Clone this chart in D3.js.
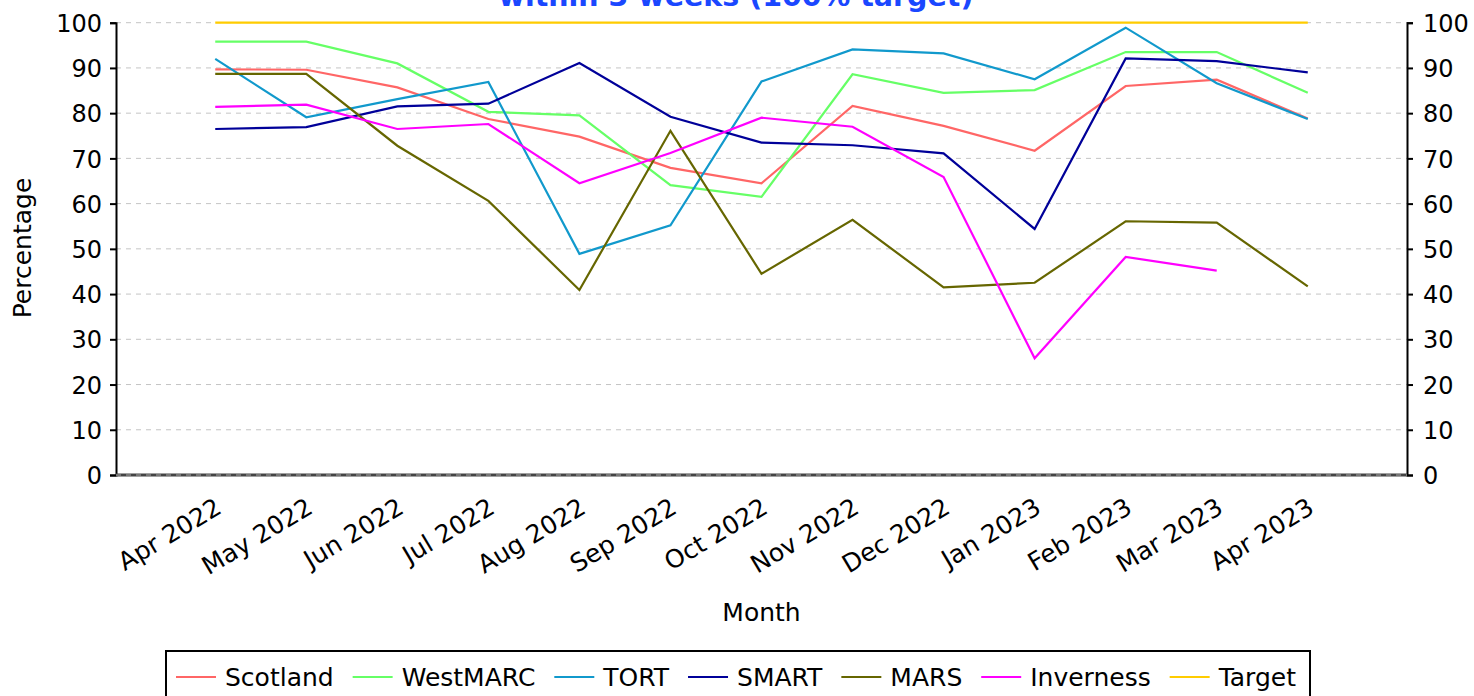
<!DOCTYPE html>
<html>
<head>
<meta charset="utf-8">
<script src="https://cdn.jsdelivr.net/npm/d3@7"></script>
<style>
  body { margin: 0; background: #fff; }
  svg { display: block; font-family: "DejaVu Sans", sans-serif; }
</style>
</head>
<body>
<svg id="chart" width="1474" height="696"></svg>
<script>
// data
const months = ['Apr 2022', 'May 2022', 'Jun 2022', 'Jul 2022', 'Aug 2022', 'Sep 2022', 'Oct 2022',
                'Nov 2022', 'Dec 2022', 'Jan 2023', 'Feb 2023', 'Mar 2023', 'Apr 2023']

const scotland  = [89.7, 89.6, 85.7, 78.7, 74.8, 67.9, 64.5, 81.6, 77.2, 71.7, 86.0, 87.4, 78.8]
const westmarc  = [95.8, 95.8, 91.0, 80.3, 79.5, 64.1, 61.5, 88.6, 84.5, 85.1, 93.5, 93.5, 84.5]
const tort      = [92.0, 79.1, 83.1, 86.9, 48.9, 55.2, 87.0, 94.1, 93.2, 87.5, 98.9, 86.6, 78.7]
const smart     = [76.5, 76.9, 81.5, 82.1, 91.1, 79.2, 73.5, 72.9, 71.1, 54.4, 92.1, 91.5, 89.0]
const mars      = [88.7, 88.7, 72.8, 60.6, 40.9, 76.1, 44.5, 56.4, 41.5, 42.5, 56.1, 55.8, 41.7]
const inverness = [81.4, 81.9, 76.5, 77.6, 64.5, 71.2, 79.0, 77.0, 65.9, 25.8, 48.2, 45.2, null]
const target    = [100, 100, 100, 100, 100, 100, 100, 100, 100, 100, 100, 100, 100]

const yTicks = [0, 10, 20, 30, 40, 50, 60, 70, 80, 90, 100]

const series = [
    { name : 'Scotland',  values : scotland,  color : '#ff6666' },
    { name : 'WestMARC',  values : westmarc,  color : '#66ff66' },
    { name : 'TORT',      values : tort,      color : '#1199cc' },
    { name : 'SMART',     values : smart,     color : '#000099' },
    { name : 'MARS',      values : mars,      color : '#666600' },
    { name : 'Inverness', values : inverness, color : '#ff00ff' },
    { name : 'Target',    values : target,    color : '#ffcc00' }
]

const svg = d3.select('#chart')
const plotLeft = 116, plotRight = 1407, plotTop = 22.7, plotBottom = 475

const x = d3.scalePoint()
    .domain(months)
    .range([plotLeft, plotRight])
    .padding(1.09)

const y = d3.scaleLinear()
    .domain([0, 100])
    .range([plotBottom, plotTop])

// title (only the last line shows at the top edge)
svg.append('text')
    .attr('x', 736)
    .attr('y', 6)
    .attr('text-anchor', 'middle')
    .attr('font-size', 28.5)
    .attr('font-weight', 'bold')
    .attr('fill', '#1a47ff')
    .text('within 3 weeks (100% target)')

// gridlines
svg.append('g')
    .selectAll('line')
    .data(yTicks.filter(d => d > 0))
    .enter().append('line')
    .attr('x1', plotLeft).attr('x2', plotRight)
    .attr('y1', d => y(d)).attr('y2', d => y(d))
    .attr('stroke', '#c4c4c4')
    .attr('stroke-width', 1)
    .attr('stroke-dasharray', '5,5')

// axes
const leftAxis = svg.append('g')
    .attr('transform', `translate(${plotLeft},0)`)
    .call(d3.axisLeft(y).tickValues(yTicks).tickSize(6).tickPadding(8))
const rightAxis = svg.append('g')
    .attr('transform', `translate(${plotRight},0)`)
    .call(d3.axisRight(y).tickValues(yTicks).tickSize(6).tickPadding(10))

;[leftAxis, rightAxis].forEach(g => {
    g.select('.domain').attr('stroke', '#000').attr('stroke-width', 2)
    g.selectAll('.tick line').attr('stroke', '#000').attr('stroke-width', 2)
    g.selectAll('.tick text')
        .attr('font-size', 24)
        .attr('font-family', '"DejaVu Sans", sans-serif')
        .attr('fill', '#000')
        .attr('dy', '0.36em')
})

// bottom axis line with the zero gridline over it
svg.append('line')
    .attr('x1', plotLeft).attr('x2', plotRight)
    .attr('y1', plotBottom).attr('y2', plotBottom)
    .attr('stroke', '#444')
    .attr('stroke-width', 3)
svg.append('line')
    .attr('x1', plotLeft).attr('x2', plotRight)
    .attr('y1', plotBottom).attr('y2', plotBottom)
    .attr('stroke', '#aaa')
    .attr('stroke-width', 1)
    .attr('stroke-dasharray', '5,5')

// category labels
svg.append('g')
    .selectAll('text')
    .data(months)
    .enter().append('text')
    .attr('transform', d => `translate(${x(d) + 8},512) rotate(-31)`)
    .attr('text-anchor', 'end')
    .attr('font-size', 25)
    .text(d => d)

// axis titles
svg.append('text')
    .attr('x', (plotLeft + plotRight) / 2)
    .attr('y', 621)
    .attr('text-anchor', 'middle')
    .attr('font-size', 25)
    .text('Month')

svg.append('text')
    .attr('transform', 'translate(31,248) rotate(-90)')
    .attr('text-anchor', 'middle')
    .attr('font-size', 25)
    .text('Percentage')

// series lines
const line = d3.line()
    .defined(d => d != null)
    .x((d, i) => x(months[i]))
    .y(d => y(d))

svg.append('g')
    .selectAll('path')
    .data(series)
    .enter().append('path')
    .attr('d', d => line(d.values))
    .attr('fill', 'none')
    .attr('stroke', d => d.color)
    .attr('stroke-width', 2.2)

// legend
const legend = svg.append('g')
const items = legend.selectAll('g')
    .data(series)
    .enter().append('g')

items.append('line')
    .attr('x1', 0).attr('x2', 40)
    .attr('y1', 677).attr('y2', 677)
    .attr('stroke', d => d.color)
    .attr('stroke-width', 2.2)

items.append('text')
    .attr('x', 49)
    .attr('y', 686)
    .attr('font-size', 25)
    .text(d => d.name)

const widths = []
items.each(function (d) {
    const w = 49 + d3.select(this).select('text').node().getComputedTextLength()
    widths.push(w)
})
const firstX = 176, lastX = 1296
const gap = (lastX - firstX - d3.sum(widths)) / (widths.length - 1)
let start = firstX
items.attr('transform', (d, i) => {
    const t = `translate(${start},0)`
    start += widths[i] + gap
    return t
})

legend.insert('rect', ':first-child')
    .attr('x', 166)
    .attr('y', 651)
    .attr('width', 1310 - 166)
    .attr('height', 60)
    .attr('fill', '#fff')
    .attr('stroke', '#000')
    .attr('stroke-width', 2)
</script>
</body>
</html>
